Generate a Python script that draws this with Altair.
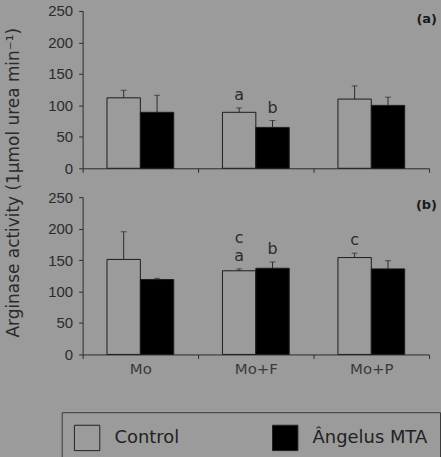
import altair as alt
import pandas as pd

BG = "#9b9b9b"
INK = "#2b2b2b"

groups = ["Mo", "Mo+F", "Mo+P"]
series = ["Control", "Ângelus MTA"]

# panel (a): means and upper error (SD)
control_a = [112, 89, 110]
control_a_err = [12, 7, 21]
mta_a = [89, 65, 100]
mta_a_err = [27, 11, 13]

# panel (b): means and upper error (SD)
control_b = [151, 133, 154]
control_b_err = [44, 3, 7]
mta_b = [119, 137, 136]
mta_b_err = [2, 10, 13]

# significance letters placed above the error bars
letter_panel = ["a", "a", "b", "b", "b", "b"]
letter_group = ["Mo+F", "Mo+F", "Mo+F", "Mo+F", "Mo+F", "Mo+P"]
letter_series = ["Control", "Ângelus MTA", "Control", "Control", "Ângelus MTA", "Control"]
letter_level = [1, 1, 1, 2, 1, 1]
letter_text = ["a", "b", "a", "c", "b", "c"]


def frame(ctrl, ctrl_err, mta, mta_err):
    rows = []
    for g, v, e in zip(groups, ctrl, ctrl_err):
        rows.append({"group": g, "series": series[0], "value": v, "top": v + e})
    for g, v, e in zip(groups, mta, mta_err):
        rows.append({"group": g, "series": series[1], "value": v, "top": v + e})
    return pd.DataFrame(rows)


def letters_for(panel_id, df):
    rows = []
    for p, g, s, lv, t in zip(letter_panel, letter_group, letter_series, letter_level, letter_text):
        if p != panel_id:
            continue
        top = df[(df.group == g) & (df.series == s)]["top"].iloc[0]
        rows.append({"group": g, "series": s, "level": lv, "letter": t, "top": top})
    return pd.DataFrame(rows)


W, H = 348, 158
TITLE = "Arginase activity (1µmol urea min⁻¹)"


def panel(df, letters, tag, bottom):
    x = alt.X(
        "group:N",
        scale=alt.Scale(domain=groups, paddingInner=0, paddingOuter=0),
        axis=alt.Axis(
            title=None, labels=bottom, labelAngle=0, tickBand="extent",
            labelFont="DejaVu Sans", labelFontSize=15, labelColor="#3a3a3a",
            labelPadding=3, tickSize=4, domainColor=INK, tickColor=INK,
        ),
    )
    xo = alt.XOffset(
        "series:N", scale=alt.Scale(domain=series, paddingInner=0, paddingOuter=0.73)
    )
    yaxis = alt.Axis(
        values=[0, 50, 100, 150, 200, 250], grid=False, tickSize=4,
        labelOverlap=False, labelFlush=False,
        labelFont="Liberation Sans", labelFontSize=15, labelColor=INK,
        labelPadding=6, domainColor=INK, tickColor=INK,
        title=None if bottom else TITLE,
        titleFont="DejaVu Sans", titleFontSize=17, titleFontWeight="normal",
        titleColor=INK, titleY=172, titlePadding=25,
    )
    yscale = alt.Scale(domain=[0, 250])

    def yv(field):
        return alt.Y(field, type="quantitative", scale=yscale, axis=yaxis)

    fill = alt.Fill(
        "series:N",
        scale=alt.Scale(domain=series, range=[BG, "#000000"]),
        legend=alt.Legend(
            title=None, orient="none", legendX=-21, legendY=216,
            direction="horizontal", symbolType="square", symbolSize=650,
            symbolStrokeColor="#222222", symbolStrokeWidth=1,
            labelFont="DejaVu Sans", labelFontSize=18, labelColor="#222222",
            labelOffset=14, columnPadding=90, padding=12, strokeColor="#3a3a3a",
        ) if bottom else None,
    )

    base = alt.Chart(df)
    bars = base.mark_bar(stroke="#1c1c1c", strokeWidth=1).encode(
        x=x, xOffset=xo, y=yv("value"), fill=fill
    )
    err = base.mark_rule(color=INK, strokeWidth=1).encode(
        x=x, xOffset=xo, y=yv("value"), y2="top:Q"
    )
    cap = base.mark_tick(orient="horizontal", size=6, thickness=1, color=INK).encode(
        x=x, xOffset=xo, y=yv("top")
    )
    lbl = alt.Chart(letters)
    txt1 = lbl.transform_filter("datum.level == 1").mark_text(
        font="DejaVu Sans", fontSize=16, color=INK, baseline="bottom", dy=-5
    ).encode(x=x, xOffset=xo, y=yv("top"), text="letter:N")
    txt2 = lbl.transform_filter("datum.level == 2").mark_text(
        font="DejaVu Sans", fontSize=16, color=INK, baseline="bottom", dy=-23
    ).encode(x=x, xOffset=xo, y=yv("top"), text="letter:N")
    tag_txt = alt.Chart(pd.DataFrame({"t": [tag]})).mark_text(
        font="DejaVu Sans", fontSize=13, fontWeight="bold", color="#1a1a1a",
        align="right", baseline="middle", dx=8,
    ).encode(x=alt.value(W), y=alt.value(8), text="t:N")

    return alt.layer(bars, err, cap, txt1, txt2, tag_txt).properties(width=W, height=H)


df_a = frame(control_a, control_a_err, mta_a, mta_a_err)
df_b = frame(control_b, control_b_err, mta_b, mta_b_err)

top = panel(df_a, letters_for("a", df_a), "(a)", False)
bot = panel(df_b, letters_for("b", df_b), "(b)", True)

chart = (
    alt.vconcat(top, bot, spacing=29, bounds="flush")
    .resolve_legend(fill="independent")
    .properties(background=BG, padding={"left": 4, "top": 3, "right": 0, "bottom": 0})
    .configure_view(stroke=None)
)

chart.save("out.html", embed_options={"renderer": "svg", "actions": False})
